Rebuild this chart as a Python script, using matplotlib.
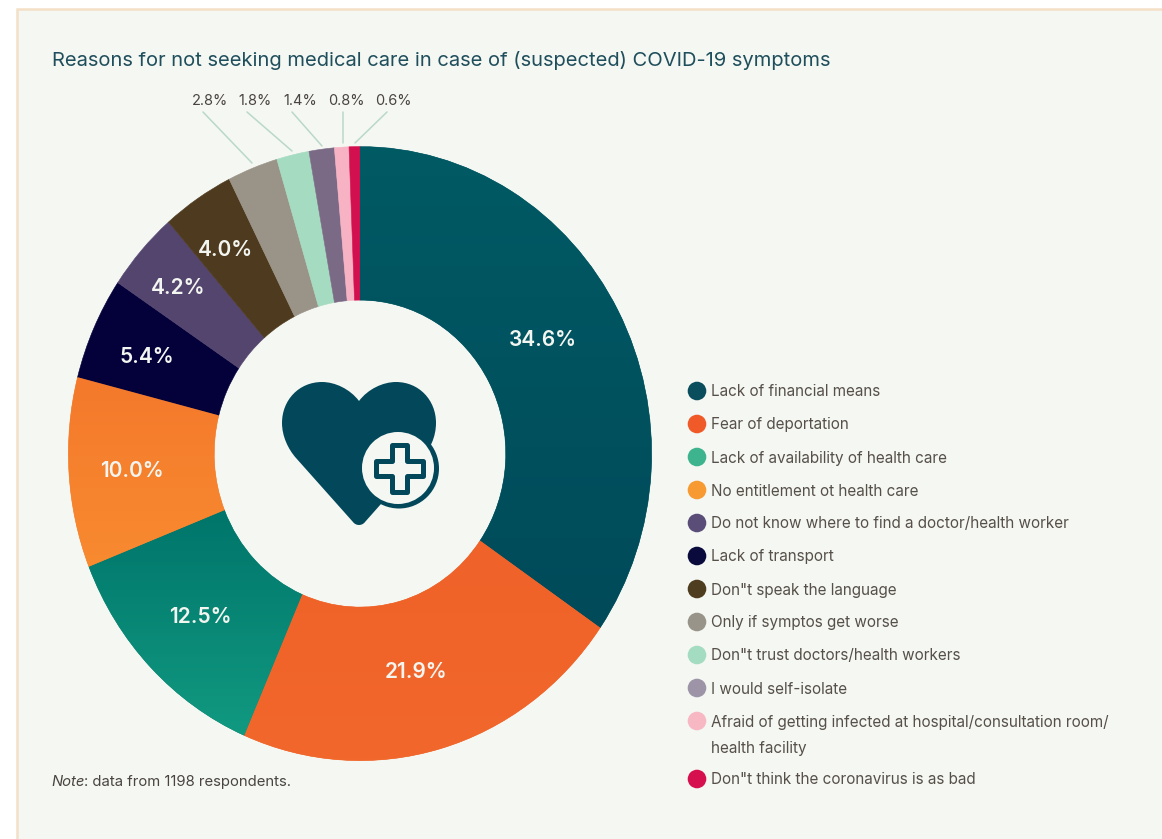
import matplotlib
matplotlib.use("Agg")
import matplotlib.pyplot as plt
import numpy as np
from matplotlib.colors import LinearSegmentedColormap
from matplotlib.patches import Circle, PathPatch, Polygon, Rectangle
from matplotlib.path import Path

W, H, DPI = 1162, 839, 100

# Survey results
reasons = [
    "Lack of financial means",
    "Fear of deportation",
    "Lack of availability of health care",
    "No entitlement ot health care",
    "Do not know where to find a doctor/health worker",
    "Lack of transport",
    'Don"t speak the language',
    "Only if symptos get worse",
    'Don"t trust doctors/health workers',
    "I would self-isolate",
    "Afraid of getting infected at hospital/consultation room/\nhealth facility",
    'Don"t think the coronavirus is as bad',
]
shares = [34.6, 21.9, 12.5, 10.0, 5.4, 4.2, 4.0, 2.8, 1.8, 1.4, 0.8, 0.6]

# Styling
slice_colors = ["#005560", "#F0652A", "#04806F", "#F5802D", "#03003A", "#54456F",
                "#4E3A1E", "#9A9488", "#A5DBC0", "#7B6A85", "#F7B2C4", "#D3104F"]
slice_gradients = {0: ("#005A64", "#004A5A"), 1: ("#EF6229", "#F2672B"),
                   2: ("#00756B", "#119980"), 3: ("#F4792B", "#F88A30")}
dot_colors = ["#0A4D5C", "#F05A28", "#3DB48E", "#F79A32", "#5A4E78", "#0A0A3C",
              "#4E3D1E", "#98948A", "#A3DCC0", "#9D94A8", "#F7B8C4", "#D6104E"]
label_radii = [0.729, 0.737, 0.764, 0.784, 0.795, 0.825, 0.807]
label_turns = [-2.8, 0.9, 0.0, -0.6, -0.8, -0.6, -1.0]
legend_rows = [391, 424, 457, 490, 523, 556, 589, 622, 655, 688, 721, 779]
outer_pos = [203, 247, 292, 342.5, 387]
PANEL, DARK, TEXT = "#F5F7F2", "#02485A", "#565049"
FONT = "Inter"

fig = plt.figure(figsize=(W / DPI, H / DPI), dpi=DPI, facecolor="white")

# Full-figure axes in pixel units for the panel, texts and icon
bg = fig.add_axes([0, 0, 1, 1], zorder=0)
bg.set_xlim(0, W)
bg.set_ylim(H, 0)
bg.axis("off")
bg.add_patch(Rectangle((17, 9), W, H, fc=PANEL, ec="#F3E0C6", lw=1.8))

bg.text(52, 61, "Reasons for not seeking medical care in case of (suspected) COVID-19 symptoms",
        fontsize=14.5, color="#1F4E5C", family=FONT, va="center", ha="left")

# Doughnut: the axes span the ring's box, slightly taller than wide
cx, cy, rx, ry = 360, 453.6, 291.6, 307
pie_ax = fig.add_axes([(cx - rx) / W, 1 - (cy + ry) / H, 2 * rx / W, 2 * ry / H], zorder=1)
wedges, _ = pie_ax.pie(shares, colors=slice_colors, startangle=90, counterclock=False,
                       radius=1, wedgeprops=dict(width=0.5, linewidth=0.4))
for wedge, color in zip(wedges, slice_colors):
    wedge.set_edgecolor(color)
for idx, (top, bottom) in slice_gradients.items():
    x0, y0, x1, y1 = wedges[idx].get_path().get_extents().extents
    cmap = LinearSegmentedColormap.from_list("slice", [top, bottom])
    im = pie_ax.imshow(np.linspace(0, 1, 64).reshape(-1, 1), cmap=cmap, aspect="auto",
                       extent=(x0, x1, y0, y1), origin="upper", zorder=1.5)
    im.set_clip_path(wedges[idx])
pie_ax.set_aspect("auto")
pie_ax.set_xlim(-1, 1)
pie_ax.set_ylim(-1, 1)
pie_ax.patch.set_alpha(0)
pie_ax.axis("off")

# Values inside the larger slices
fractions = np.cumsum(shares) - np.array(shares) / 2
for share, frac, radius, turn in zip(shares, fractions, label_radii, label_turns):
    theta = np.deg2rad(frac * 3.6 + turn)
    pie_ax.text(radius * np.sin(theta), radius * np.cos(theta), f"{share:.1f}%",
                color="#F3F5F0", fontsize=15, fontweight="semibold", family=FONT,
                ha="center", va="center", zorder=3)

# Values of the small slices, with leader lines
ends = [(252, 163), (292, 151), (322, 146), (342.5, 143), (355, 143)]
text_x = [210, 255, 300, 346, 393]
for share, x, tx, end in zip(shares[7:], outer_pos, text_x, ends):
    bg.plot([x, end[0]], [112, end[1]], color="#B9D8CB", lw=1.1, solid_capstyle="round")
    bg.text(tx, 101, f"{share:.1f}%", fontsize=10.5, color="#4A4440", family=FONT,
            ha="center", va="center")

# Legend
for label, color, y in zip(reasons, dot_colors, legend_rows):
    bg.add_patch(Circle((697, y), 9.3, fc=color, ec="none"))
    bg.text(711, y + 1, label.split("\n")[0], fontsize=11, color=TEXT, family=FONT,
            va="center", ha="left")
    if "\n" in label:
        bg.text(711, y + 27, label.split("\n")[1], fontsize=11, color=TEXT, family=FONT,
                va="center", ha="left")

# Footnote with an italic lead word
note = bg.text(51, 782, "Note", fontsize=10.7, style="italic", color="#4A4440", family=FONT, va="center")
fig.canvas.draw()
end_x = note.get_window_extent().x1
bg.text(end_x, 782, ": data from 1198 respondents.", fontsize=10.7, color="#4A4440", family=FONT, va="center")

# Heart icon in the doughnut hole
M, L, C4, Z = Path.MOVETO, Path.LINETO, Path.CURVE4, Path.CLOSEPOLY
heart = Path(
    [(359, 401), (350, 389), (335, 382), (322, 382), (299, 382), (282, 400), (282, 423),
     (282, 436), (288, 449), (296, 458), (353, 522), (356, 526), (362, 526), (365, 522),
     (420, 460), (430, 450), (436, 437), (436, 423), (436, 400), (419, 382), (396, 382),
     (383, 382), (368, 389), (359, 401), (359, 401)],
    [M, C4, C4, C4, C4, C4, C4, C4, C4, C4, L, C4, C4, C4, L, C4, C4, C4, C4, C4, C4, C4, C4, C4, Z],
)
bg.add_patch(PathPatch(heart, fc=DARK, ec="none", zorder=3))
bg.add_patch(Circle((399, 468.5), 40, fc=DARK, ec="none", zorder=3.1))
bg.add_patch(Circle((398, 468), 36, fc=PANEL, ec="none", zorder=3.2))
a, b, px, py = 23.5, 7.5, 399, 468
cross = [(-b, -a), (b, -a), (b, -b), (a, -b), (a, b), (b, b), (b, a), (-b, a), (-b, b), (-a, b), (-a, -b), (-b, -b)]
bg.add_patch(Polygon([(px + u, py + v) for u, v in cross], closed=True, fc=PANEL, ec=DARK,
                     lw=3.6, joinstyle="round", zorder=3.3))

fig.savefig("out.png", dpi=DPI)
